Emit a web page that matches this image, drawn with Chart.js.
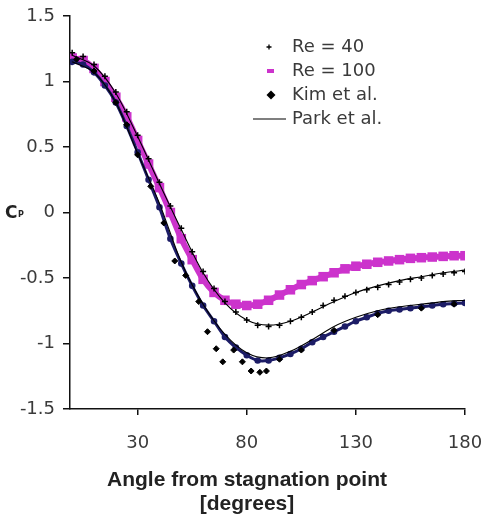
<!DOCTYPE html>
<html><head><meta charset="utf-8">
<script src="https://cdn.jsdelivr.net/npm/chart.js@4.4.1/dist/chart.umd.min.js"></script>
<style>html,body{margin:0;padding:0;background:#fff;}#wrap{width:482px;height:520px;position:relative;}</style>
</head><body><div id="wrap"><canvas id="c" width="482" height="520"></canvas></div>
<script>
// ---- data ----
const angles = [0,5,10,15,20,25,30,35,40,45,50,55,60,65,70,75,80,85,90,95,100,105,110,115,120,125,130,135,140,145,150,155,160,165,170,175,180];
const re40 = [1.22,1.19,1.13,1.04,0.92,0.77,0.59,0.41,0.23,0.05,-0.12,-0.30,-0.45,-0.58,-0.68,-0.76,-0.82,-0.86,-0.87,-0.86,-0.83,-0.80,-0.76,-0.71,-0.67,-0.64,-0.61,-0.59,-0.57,-0.55,-0.53,-0.51,-0.50,-0.48,-0.47,-0.46,-0.45];
const re100 = [1.18,1.16,1.10,1.00,0.88,0.73,0.55,0.37,0.19,0.00,-0.20,-0.36,-0.51,-0.61,-0.67,-0.70,-0.71,-0.70,-0.67,-0.63,-0.59,-0.55,-0.52,-0.49,-0.46,-0.43,-0.41,-0.395,-0.38,-0.37,-0.36,-0.35,-0.345,-0.34,-0.335,-0.33,-0.33];
const lowerCurve = [1.15,1.13,1.07,0.97,0.84,0.66,0.46,0.25,0.04,-0.20,-0.39,-0.56,-0.71,-0.83,-0.95,-1.03,-1.09,-1.13,-1.13,-1.11,-1.08,-1.04,-0.99,-0.95,-0.91,-0.87,-0.83,-0.80,-0.77,-0.75,-0.74,-0.73,-0.72,-0.71,-0.70,-0.695,-0.69];
const kimAngles = [2,10,20,25,30,36,42,47,52,58,62,66,69,74,78,82,86,89,95,105,120,140,160,175];
const kimValues = [1.17,1.08,0.84,0.67,0.44,0.20,-0.08,-0.37,-0.48,-0.68,-0.91,-1.04,-1.14,-1.05,-1.14,-1.21,-1.22,-1.21,-1.12,-1.05,-0.90,-0.78,-0.73,-0.70];
const parkAngles = [0,10,20,30,40,50,60,70,80,90,100,110,120,130,140,150,160,170,180];
const parkUpper = [1.20,1.12,0.91,0.58,0.22,-0.13,-0.46,-0.69,-0.82,-0.86,-0.83,-0.76,-0.68,-0.61,-0.56,-0.52,-0.49,-0.46,-0.44];
const parkLower = [1.15,1.07,0.84,0.45,0.07,-0.38,-0.70,-0.93,-1.07,-1.11,-1.06,-0.97,-0.87,-0.80,-0.75,-0.72,-0.70,-0.68,-0.67];
const seriesNames = ['Re = 40','Re = 100','Kim et al.','Park et al.'];
const xTickValues = [30,80,130,180];
const xTickLabels = ['30','80','130','180'];
const yTickValues = [-1.5,-1,-0.5,0,0.5,1,1.5];
const yTickLabels = ['-1.5','-1','-0.5','0','0.5','1','1.5'];
const xTitleLines = ['Angle from stagnation point','[degrees]'];
const yTitleMain = 'C', yTitleSub = 'P';

const pts = (xs, ys) => xs.map((x,i)=>({x:x, y:ys[i]}));
const parkData = pts(parkAngles, parkUpper).concat([{x:180, y:null}], pts(parkAngles, parkLower));

const TXT = '#3a3a3a';
const overlay = {
  id:'overlay',
  afterDraw(chart){
    const ctx = chart.ctx;
    ctx.save();
    ctx.fillStyle = '#222';
    ctx.textBaseline = 'alphabetic';
    ctx.font = 'bold 17px "DejaVu Sans"';
    ctx.fillText(yTitleMain, 5, 218);
    ctx.font = 'bold 8px "DejaVu Sans"';
    ctx.fillText(yTitleSub, 18, 217);
    ctx.font = 'bold 21px "Liberation Sans"';
    ctx.textAlign = 'center';
    ctx.fillText(xTitleLines[0], 247, 486);
    ctx.fillText(xTitleLines[1], 247, 510);
    const rows = [47,71,95,119];
    ctx.textAlign = 'left';
    ctx.textBaseline = 'middle';
    ctx.font = '18px "DejaVu Sans"';
    for (let i=0;i<4;i++){
      const ds = chart.data.datasets[i];
      const y = rows[i];
      ctx.fillStyle = TXT;
      ctx.fillText(ds.label, 292, y);
      if (i===0){
        ctx.strokeStyle='#000'; ctx.lineWidth=1.3;
        ctx.beginPath(); ctx.moveTo(266.5,y); ctx.lineTo(271.5,y); ctx.moveTo(269,y-2.5); ctx.lineTo(269,y+2.5); ctx.stroke();
      } else if (i===1){
        ctx.fillStyle = ds.pointBackgroundColor; ctx.fillRect(267,y-2,7,4);
      } else if (i===2){
        ctx.fillStyle='#000'; ctx.beginPath(); ctx.moveTo(271,y-4.5); ctx.lineTo(275.5,y); ctx.lineTo(271,y+4.5); ctx.lineTo(266.5,y); ctx.closePath(); ctx.fill();
      } else {
        ctx.strokeStyle='#000'; ctx.lineWidth=1.2;
        ctx.beginPath(); ctx.moveTo(253,y); ctx.lineTo(286,y); ctx.stroke();
      }
    }
    ctx.restore();
  }
};

new Chart(document.getElementById('c'), {
  type:'scatter',
  data:{ datasets:[
    {label:seriesNames[0], data:pts(angles,re40), showLine:false, pointStyle:'cross', pointRadius:3, borderColor:'#000', pointBorderColor:'#000', pointBorderWidth:1.5, order:2},
    {label:seriesNames[1], data:pts(angles,re100), showLine:true, borderColor:'#cc33cc', borderWidth:6, pointStyle:'rect', pointRadius:2.5, pointBackgroundColor:'#cc33cc', pointBorderColor:'#cc33cc', tension:0.3, order:4},
    {label:seriesNames[2], data:pts(kimAngles,kimValues), showLine:false, pointStyle:'rectRot', pointRadius:3, pointBackgroundColor:'#000', pointBorderColor:'#000', order:1},
    {label:seriesNames[3], data:parkData, showLine:true, spanGaps:false, borderColor:'#000', borderWidth:1.1, pointRadius:0, tension:0.3, order:0},
    {label:'', data:pts(angles,lowerCurve), showLine:true, borderColor:'#1c1c66', borderWidth:3, pointStyle:'circle', pointRadius:1.8, pointBackgroundColor:'#1c1c66', pointBorderColor:'#1c1c66', tension:0.3, order:3}
  ]},
  options:{
    responsive:false, animation:false, devicePixelRatio:1,
    layout:{padding:{left:0,right:17,top:16,bottom:0}},
    plugins:{legend:{display:false}, tooltip:{enabled:false}},
    scales:{
      x:{type:'linear', min:-1, max:180,
        afterBuildTicks:(s)=>{ s.ticks = xTickValues.map(v=>({value:v})); },
        afterFit:(s)=>{ s.height = 111; s.paddingRight = 0; s.paddingLeft = 0; },
        grid:{drawOnChartArea:false, drawTicks:true, tickLength:6, color:'#111', lineWidth:1.5},
        border:{display:true, color:'#111', width:1.5},
        ticks:{color:TXT, font:{family:'"DejaVu Sans"', size:18}, padding:18, maxRotation:0, autoSkip:false,
          callback:(v)=>xTickLabels[xTickValues.indexOf(v)]}
      },
      y:{type:'linear', min:-1.5, max:1.5,
        afterBuildTicks:(s)=>{ s.ticks = yTickValues.map(v=>({value:v})); },
        afterFit:(s)=>{ s.width = 70; s.paddingTop = 0; s.paddingBottom = 0; },
        grid:{drawOnChartArea:false, drawTicks:true, tickLength:7, color:'#111', lineWidth:1.5},
        border:{display:true, color:'#111', width:1.5},
        ticks:{color:TXT, font:{family:'"DejaVu Sans"', size:18}, padding:8, autoSkip:false,
          callback:(v)=>yTickLabels[yTickValues.indexOf(v)]}
      }
    }
  },
  plugins:[overlay]
});
</script></body></html>
